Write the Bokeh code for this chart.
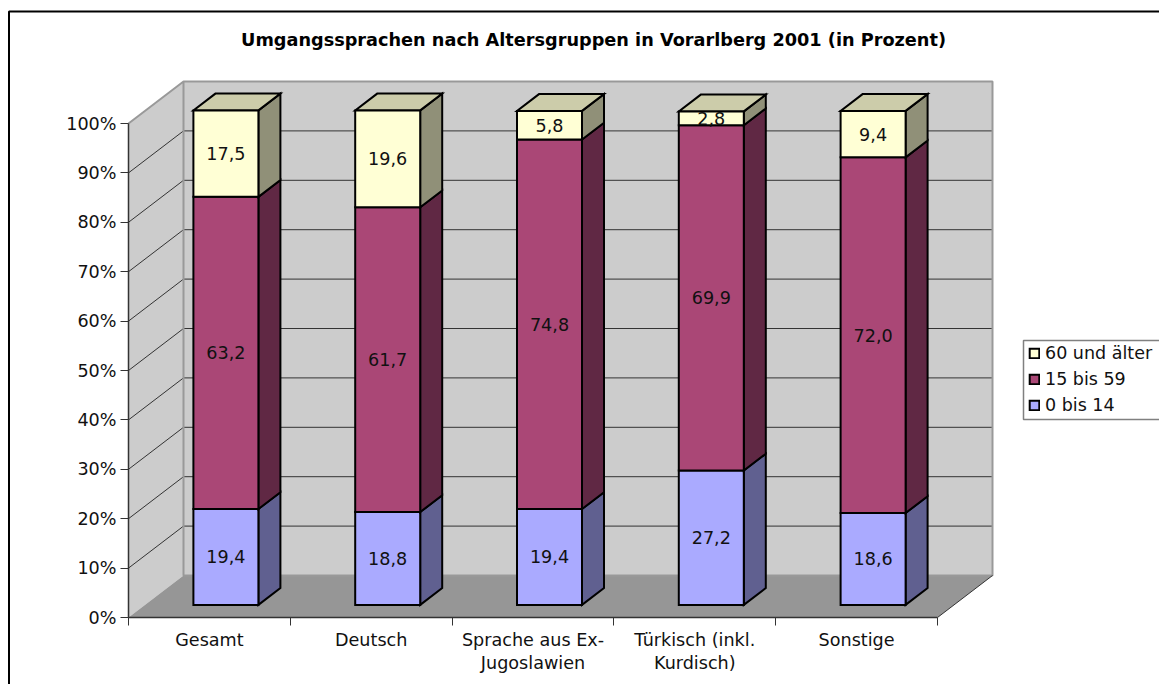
from bokeh.plotting import figure
from bokeh.models import Range1d, FixedTicker, PrintfTickFormatter, Legend, LegendItem, Label
from bokeh.embed import file_html
from bokeh.resources import INLINE
from bokeh.core.properties import value

categories = ["Gesamt", "Deutsch", "Sprache aus Ex-\nJugoslawien", "Türkisch (inkl.\nKurdisch)", "Sonstige"]
series_names = ["0 bis 14", "15 bis 59", "60 und älter"]
young = [19.4, 18.8, 19.4, 27.2, 18.6]
middle = [63.2, 61.7, 74.8, 69.9, 72.0]
old = [17.5, 19.6, 5.8, 2.8, 9.4]
y_ticks = [0, 10, 20, 30, 40, 50, 60, 70, 80, 90, 100]
title_text = "Umgangssprachen nach Altersgruppen in Vorarlberg 2001 (in Prozent)"

front_colors = ["#AAAAFF", "#AA4776", "#FFFFD5"]
side_colors = ["#606090", "#602844", "#909078"]
top_color = "#CCCCAA"
FONT = "DejaVu Sans"
TXT = "#111111"
FS = "17.6px"

W, H = 1159, 684
PX_X0, PX_X1 = 128.0, 937.0
PX_Y0, PX_Y100 = 617.0, 123.0
U = (PX_X1 - PX_X0) / 5      # px per category
V = (PX_Y0 - PX_Y100) / 100  # px per percent
DX = 55.0 / U   # wall depth in category units
DY = 42.0 / V   # wall depth in percent units
D0, D1 = 0.30, 0.70          # bar depth extents
HALF = 32.5 / U              # half bar width


def X(px):
    return (px - PX_X0) / U


def Y(py):
    return (PX_Y0 - py) / V


def proj(x, y, d):
    return x + DX * d, y + DY * d


p = figure(width=W, height=H, output_backend="svg", toolbar_location=None,
           x_range=Range1d(X(0), X(W)), y_range=Range1d(Y(H), Y(0)),
           min_border_left=0, min_border_right=0, min_border_top=0, min_border_bottom=0,
           background_fill_color="white", border_fill_color="white")
p.outline_line_color = None
p.grid.visible = False

# chart border (top and left visible; the rest runs off the page)
p.line([X(8.5), X(8.5), X(1200)], [Y(700), Y(11), Y(11)], line_color="black", line_width=2)

# walls and floor
lx, ly = zip(*[proj(0, 0, 0), proj(0, 0, 1), proj(0, 100, 1), proj(0, 100, 0)])
p.patch(list(lx), list(ly), fill_color="#CCCCCC", line_color=None)
bx, by = zip(*[proj(0, 0, 1), proj(5, 0, 1), proj(5, 100, 1), proj(0, 100, 1)])
p.patch(list(bx), list(by), fill_color="#CCCCCC", line_color=None)
for t in y_ticks[1:-1]:
    a, b = proj(0, t, 0), proj(0, t, 1)
    c = proj(5, t, 1)
    p.line([a[0], b[0], c[0]], [a[1], b[1], c[1]], line_color="#333333", line_width=1)
fx, fy = zip(*[proj(0, 0, 0), proj(5, 0, 0), proj(5, 0, 1), proj(0, 0, 1)])
p.patch(list(fx), list(fy), fill_color="#969696", line_color=None)
e = [proj(0, 100, 0), proj(0, 100, 1), proj(5, 100, 1), proj(5, 0, 1), proj(0, 0, 1), proj(0, 100, 1)]
p.line([q[0] for q in e], [q[1] for q in e], line_color="#999999", line_width=2)
e2 = [proj(5, 0, 0), proj(5, 0, 1)]
p.line([q[0] for q in e2], [q[1] for q in e2], line_color="#333333", line_width=1)

# bars
stack = [young, middle, old]
base = [0.0] * 5
legend_renderers = []
label_x, label_y, label_t = [], [], []
for s, vals in enumerate(stack):
    fxs, fys, sxs, sys_, txs, tys = [], [], [], [], [], []
    for i, v in enumerate(vals):
        y0, y1 = base[i], base[i] + v
        xl, xr = i + 0.5 - HALF, i + 0.5 + HALF
        f = [proj(xl, y0, D0), proj(xr, y0, D0), proj(xr, y1, D0), proj(xl, y1, D0)]
        fxs.append([q[0] for q in f]); fys.append([q[1] for q in f])
        r = [proj(xr, y0, D0), proj(xr, y0, D1), proj(xr, y1, D1), proj(xr, y1, D0)]
        sxs.append([q[0] for q in r]); sys_.append([q[1] for q in r])
        t = [proj(xl, y1, D0), proj(xr, y1, D0), proj(xr, y1, D1), proj(xl, y1, D1)]
        txs.append([q[0] for q in t]); tys.append([q[1] for q in t])
        cx, cy = proj(i + 0.5, (y0 + y1) / 2, D0)
        label_x.append(cx); label_y.append(cy); label_t.append(f"{v:.1f}".replace(".", ","))
        base[i] = y1
    p.patches(sxs, sys_, fill_color=side_colors[s], line_color="black", line_width=2, line_join="miter")
    if s == len(stack) - 1:
        p.patches(txs, tys, fill_color=top_color, line_color="black", line_width=2, line_join="miter")
    legend_renderers.append(
        p.patches(fxs, fys, fill_color=front_colors[s], line_color="black", line_width=2, line_join="miter"))

p.text(x=label_x, y=label_y, text=label_t, text_align="center", text_baseline="middle",
       text_font=value(FONT), text_font_size=FS, text_color=TXT)

# axes
p.yaxis.fixed_location = 0
p.yaxis.ticker = FixedTicker(ticks=y_ticks)
p.yaxis.formatter = PrintfTickFormatter(format="%d%%")
p.yaxis.bounds = (0, 100)
p.yaxis.axis_line_color = "#333333"
p.yaxis.axis_line_width = 1.5
p.yaxis.major_tick_line_color = "#333333"
p.yaxis.major_tick_line_width = 1
p.yaxis.major_tick_in = 0
p.yaxis.major_tick_out = 8
p.yaxis.minor_tick_line_color = None
p.yaxis.major_label_standoff = 4
p.yaxis.major_label_text_font = FONT
p.yaxis.major_label_text_font_size = FS
p.yaxis.major_label_text_color = TXT

p.xaxis.fixed_location = 0
p.xaxis.ticker = FixedTicker(ticks=[i + 0.5 for i in range(5)], minor_ticks=list(range(6)))
p.xaxis.major_label_overrides = {i + 0.5: c for i, c in enumerate(categories)}
p.xaxis.bounds = (0, 5)
p.xaxis.axis_line_color = "#333333"
p.xaxis.axis_line_width = 1.5
p.xaxis.major_tick_line_color = None
p.xaxis.major_tick_in = 0
p.xaxis.major_tick_out = 0
p.xaxis.minor_tick_line_color = "#333333"
p.xaxis.minor_tick_in = 0
p.xaxis.minor_tick_out = 8
p.xaxis.major_label_standoff = 4
p.xaxis.major_label_text_font = FONT
p.xaxis.major_label_text_font_size = FS
p.xaxis.major_label_text_color = TXT
p.xaxis.major_label_text_line_height = 1.15

# legend box and legend
p.quad(left=X(1023), right=X(1175), top=Y(340), bottom=Y(419),
       fill_color="white", line_color="#808080", line_width=1.5)
legend = Legend(items=[LegendItem(label=series_names[i], renderers=[legend_renderers[i]]) for i in (2, 1, 0)],
                location=(1028, H - 418), orientation="vertical",
                background_fill_alpha=0, border_line_color=None, padding=0, margin=0, spacing=0,
                glyph_width=12, glyph_height=12, label_height=26, label_standoff=5,
                label_text_font=FONT, label_text_font_size="17.5px", label_text_color=TXT,
                label_text_baseline="middle")
p.add_layout(legend, "center")

# title
p.add_layout(Label(x=X(593), y=Y(39), text=title_text, text_align="center",
                   text_baseline="middle", text_font=FONT, text_font_style="bold",
                   text_font_size="17.7px", text_color="black"))

open("out.html", "w").write(file_html(p, INLINE))
